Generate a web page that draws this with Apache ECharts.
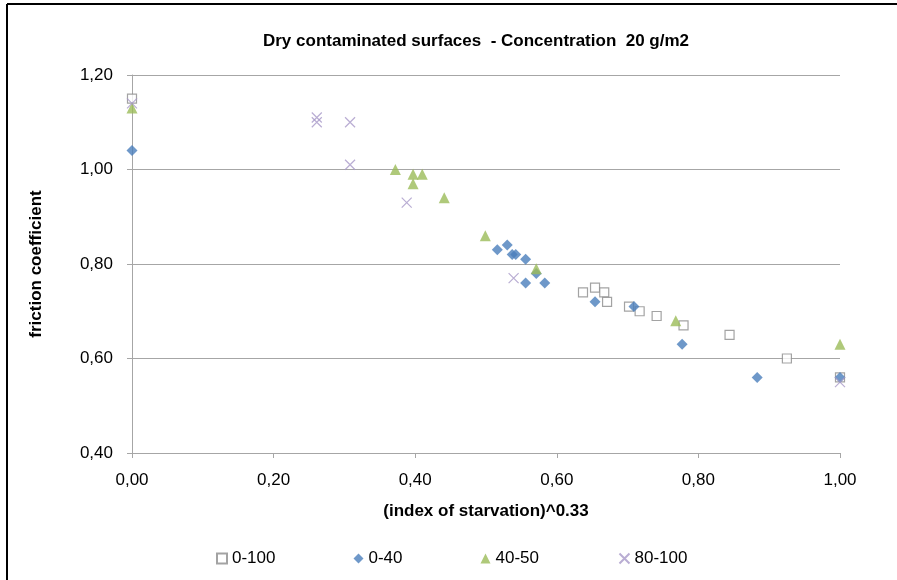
<!DOCTYPE html>
<html>
<head>
<meta charset="utf-8">
<script src="https://cdn.jsdelivr.net/npm/echarts@6/dist/echarts.min.js"></script>
<style>
html,body{margin:0;padding:0;background:#fff;}
#chart{width:897px;height:580px;}
</style>
</head>
<body>
<div id="chart"></div>
<script>
// series data: [index^0.33, friction coefficient]
var s0_100 = [[0.00,1.15],[0.637,0.74],[0.654,0.75],[0.667,0.74],[0.671,0.72],[0.702,0.71],
    [0.717,0.70],[0.741,0.69],[0.779,0.67],[0.844,0.65],[0.925,0.60],[1.00,0.56]];
var s0_40 = [[0.00,1.04],[0.516,0.83],[0.530,0.84],[0.537,0.82],[0.542,0.82],[0.556,0.81],
    [0.571,0.78],[0.556,0.76],[0.583,0.76],[0.654,0.72],[0.709,0.71],[0.777,0.63],[0.883,0.56],[1.00,0.56]];
var s40_50 = [[0.00,1.13],[0.372,1.00],[0.397,0.99],[0.410,0.99],[0.397,0.97],[0.441,0.94],
    [0.499,0.86],[0.571,0.79],[0.768,0.68],[1.00,0.63]];
var s80_100 = [[0.00,1.14],[0.261,1.11],[0.261,1.10],[0.308,1.10],[0.308,1.01],[0.388,0.93],
    [0.539,0.77],[1.00,0.55]];
var seriesNames = ['0-100','0-40','40-50','80-100'];

function fmt(v){ return v.toFixed(2).replace('.', ','); }

var myChart = echarts.init(document.getElementById('chart'));
var font = 'Liberation Sans';
var option = {
    backgroundColor: '#fff',
    animation: false,
    textStyle: {fontFamily: font},
    title: {
        text: 'Dry contaminated surfaces  - Concentration  20 g/m2',
        left: 471, top: 28, textAlign: 'center',
        textStyle: {fontFamily: font, fontSize: 17, fontWeight: 'bold', color: '#000'}
    },
    graphic: [
        {type:'line', shape:{x1:7,y1:4,x2:7,y2:580}, style:{stroke:'#000',lineWidth:2}},
        {type:'line', shape:{x1:7,y1:4,x2:897,y2:4}, style:{stroke:'#000',lineWidth:2}}
    ],
    legend: {
        bottom: 8, left: 211, itemGap: 78, itemWidth: 10, itemHeight: 10,
        textStyle: {fontFamily: font, fontSize: 17, color: '#000'},
        data: seriesNames
    },
    grid: {left: 132, right: 57, top: 75, bottom: 127},
    xAxis: {
        type: 'value', min: 0, max: 1, interval: 0.2,
        name: '(index of starvation)^0.33', nameLocation: 'middle', nameGap: 50,
        nameTextStyle: {fontFamily: font, fontSize: 17, fontWeight: 'bold', color: '#000'},
        axisLine: {lineStyle: {color: '#a6a6a6'}},
        axisTick: {show: true, length: 5, lineStyle: {color: '#a6a6a6'}},
        axisLabel: {fontSize: 17, color: '#000', margin: 19, formatter: fmt},
        splitLine: {show: false}
    },
    yAxis: {
        type: 'value', min: 0.4, max: 1.2, interval: 0.2,
        name: 'friction coefficient', nameLocation: 'middle', nameGap: 87,
        nameTextStyle: {fontFamily: font, fontSize: 17, fontWeight: 'bold', color: '#000'},
        axisLine: {show: true, lineStyle: {color: '#a6a6a6'}},
        axisTick: {show: true, length: 5, lineStyle: {color: '#a6a6a6'}},
        axisLabel: {fontSize: 17, color: '#000', margin: 19, formatter: fmt},
        splitLine: {lineStyle: {color: '#a6a6a6'}}
    },
    series: [
        {name: seriesNames[0], type: 'scatter', symbol: 'rect', symbolSize: 9, data: s0_100,
         itemStyle: {color: '#fff', borderColor: '#8c8c8c', borderWidth: 1.2}},
        {name: seriesNames[1], type: 'scatter', symbol: 'diamond', symbolSize: 11, data: s0_40,
         itemStyle: {color: '#4a7ebb'}},
        {name: seriesNames[2], type: 'scatter', symbol: 'triangle', symbolSize: 11, data: s40_50,
         itemStyle: {color: '#9bbb59'}},
        {name: seriesNames[3], type: 'scatter', symbol: 'path://M0,0L10,10M10,0L0,10', symbolSize: 10,
         data: s80_100,
         itemStyle: {color: 'none', borderColor: '#a898c8', borderWidth: 1.2}}
    ]
};
myChart.setOption(option);
window.onresize = myChart.resize;
</script>
</body>
</html>
